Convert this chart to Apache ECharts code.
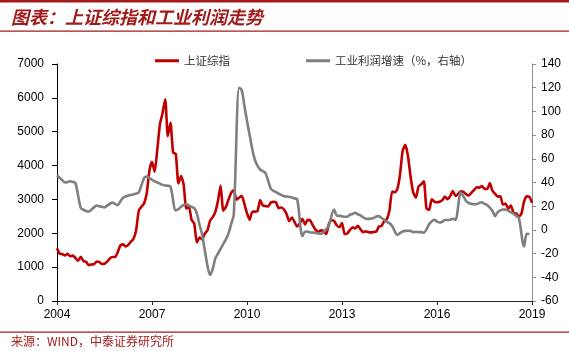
<!DOCTYPE html>
<html>
<head>
<meta charset="utf-8">
<script src="https://cdn.jsdelivr.net/npm/echarts@6/dist/echarts.min.js"></script>
<style>
  html, body { margin: 0; padding: 0; background: #fff; }
  #main { width: 569px; height: 351px; }
</style>
</head>
<body>
<div id="main"></div>
<script>
// 月度类目：2004-05 ~ 2019-05
const months = [];
for (let y = 2004; y <= 2019; y++) {
  for (let m = 1; m <= 12; m++) {
    if ((y === 2004 && m < 5) || (y === 2019 && m > 5)) continue;
    months.push(y + '-' + (m < 10 ? '0' + m : m));
  }
}

// 上证综指（月末）
const sseIndex = [
  1555, 1399, 1386, 1342, 1396, 1320, 1340, 1266,
  1191, 1306, 1181, 1159, 1060, 1080, 1083, 1162, 1155, 1092, 1099, 1161,
  1258, 1299, 1298, 1440, 1641, 1672, 1612, 1658, 1752, 1837, 2099, 2675,
  2786, 2881, 3183, 3841, 4109, 3820, 4471, 5218, 5552, 5954, 4871, 5262,
  4383, 4348, 3473, 3693, 3433, 2736, 2776, 2397, 2293, 1729, 1871, 1821,
  1991, 2082, 2374, 2477, 2633, 2959, 3412, 2668, 2779, 2996, 3195, 3277,
  2989, 3051, 3110, 2871, 2592, 2398, 2638, 2639, 2656, 2979, 2820, 2808,
  2791, 2905, 2928, 2911, 2743, 2762, 2701, 2567, 2359, 2468, 2333, 2199,
  2293, 2428, 2263, 2397, 2373, 2225, 2103, 2047, 2086, 2069, 1980, 2269,
  2385, 2366, 2237, 2178, 2301, 1979, 1994, 2098, 2175, 2142, 2221, 2116,
  2033, 2056, 2033, 2026, 2039, 2048, 2202, 2217, 2364, 2420, 2683, 3235,
  3210, 3310, 3748, 4442, 4612, 4277, 3664, 3206, 3053, 3383, 3446, 3539,
  2738, 2688, 3004, 2938, 2917, 2930, 2979, 3085, 3005, 3100, 3250, 3104,
  3159, 3242, 3223, 3155, 3117, 3192, 3273, 3361, 3349, 3393, 3317, 3307,
  3481, 3259, 3169, 3082, 3095, 2847, 2876, 2725, 2821, 2603, 2588, 2494,
  2585, 2941, 3091, 3078, 2899
];

// 工业利润累计同比（%），1月无数据
const profitGrowth = [
  46, 44, 42, 40, 40.5, 41, 40.5, 39.5,
  null, 18.5, 17, 16, 15.5, 17, 19, 20.6, 20, 19.5, 19, 20.5,
  null, 23, 22, 21, 24, 27, 28.2, 29, 29.5, 30, 30.8, 31.6,
  null, 43.8, 45, 44, 42.3, 41, 40, 39, 38, 37.5, 37.2, 36.7,
  null, 16.5, 17.5, 19.5, 21, 21.8, 20.5, 19.4, 18.4, 14, 4.3, -4,
  null, -30, -38, -33, -24, -20, -16, -12, -8, -3, 5, 13,
  null, 120, 118, 105, 92, 80, 68, 59, 54, 51, 49.5, 48,
  null, 35, 33, 31.9, 30.5, 29.5, 28.5, 28.2, 27.8, 27.4, 26.5, 26,
  null, -5.2, -1.5, -1.4, -2.2, -2.2, -2.7, -3.1, -3.3, -1.8, 0.5, 3.7,
  null, 17.2, 12.1, 11.9, 11.5, 11.1, 11.1, 12.8, 13.5, 14.4, 13.2, 12.2,
  null, 9.4, 9.3, 9.6, 10, 11.4, 11.6, 10, 8.5, 6.7, 5.7, 3.3,
  null, -4.2, -2.7, -1.3, -0.8, -0.7, -0.8, -1.9, -1.7, -1.9, -1.9, -2.3,
  null, 4.8, 7.4, 8.5, 7, 6.2, 6.9, 8.4, 8.4, 8.6, 9.4, 8.5,
  null, 31.5, 28.3, 24.4, 22.7, 22, 21.6, 21.6, 22.8, 23.3, 21.9, 21,
  null, 16.1, 11.6, 15, 16.5, 17.2, 17.1, 16.2, 14.7, 13.6, 11.8, 10.3,
  null, -14, -3.3, -3.4, null
];

const seriesNames = ['上证综指', '工业利润增速（%，右轴）'];
const titleText = '图表：上证综指和工业利润走势';
const sourceText = '来源：WIND，中泰证券研究所';
const labelStep = 36; // 每3年一个刻度

const darkRed = '#a31b1b';
const cjk = '"Noto Sans CJK SC", sans-serif';
const latin = '"Liberation Sans", Arial, sans-serif';

let myChart = echarts.init(document.getElementById('main'), null, {renderer: 'canvas'});
myChart.setOption({
  animation: false,
  backgroundColor: '#fff',
  graphic: [
    {type: 'rect', shape: {x: 0, y: 0, width: 569, height: 2.5}, style: {fill: darkRed}},
    {
      type: 'text', left: 11, top: 8,
      style: {text: titleText, fill: darkRed, font: 'italic bold 18px ' + cjk}
    },
    {type: 'rect', shape: {x: 0, y: 30.5, width: 569, height: 1.2}, style: {fill: darkRed}},
    {type: 'rect', shape: {x: 0, y: 331.5, width: 569, height: 1.2}, style: {fill: darkRed}},
    {
      type: 'text', left: 11, top: 335,
      style: {text: sourceText, fill: darkRed, font: '12px ' + cjk}
    }
  ],
  legend: {
    top: 50,
    left: 150,
    itemGap: 76,
    itemWidth: 24,
    itemHeight: 3,
    icon: 'rect',
    textStyle: {fontFamily: cjk, fontSize: 11.5, color: '#333'},
    data: seriesNames
  },
  grid: {
    left: 57,
    right: 37,
    top: 64,
    bottom: 50
  },
  xAxis: {
    type: 'category',
    boundaryGap: false,
    data: months,
    axisLine: {lineStyle: {color: '#222', width: 1}},
    axisTick: {
      length: 4,
      interval: function (idx) { return idx % labelStep === 0; },
      lineStyle: {color: '#222'}
    },
    axisLabel: {
      interval: function (idx) { return idx % labelStep === 0; },
      formatter: function (v) { return v.slice(0, 4); },
      color: '#000',
      fontFamily: latin,
      fontSize: 12,
      margin: 8
    }
  },
  yAxis: [
    {
      type: 'value',
      min: 0,
      max: 7000,
      interval: 1000,
      axisLine: {show: true, lineStyle: {color: '#000'}},
      axisTick: {show: true, length: 5, lineStyle: {color: '#000'}},
      axisLabel: {
        color: '#000', fontFamily: latin, fontSize: 12, margin: 13,
        formatter: function (v) { return String(v); }
      },
      splitLine: {show: false}
    },
    {
      type: 'value',
      min: -60,
      max: 140,
      interval: 20,
      position: 'right',
      axisLine: {show: true, lineStyle: {color: '#8c8c8c'}},
      axisTick: {show: true, length: 4, lineStyle: {color: '#8c8c8c'}},
      axisLabel: {
        color: '#000', fontFamily: latin, fontSize: 12, margin: 9,
        formatter: function (v) { return String(v); }
      },
      splitLine: {show: false}
    }
  ],
  series: [
    {
      name: seriesNames[0],
      type: 'line',
      yAxisIndex: 0,
      symbol: 'none',
      smooth: 0.2,
      itemStyle: {color: '#c00000'},
      lineStyle: {color: '#c00000', width: 2.6},
      data: sseIndex
    },
    {
      name: seriesNames[1],
      type: 'line',
      yAxisIndex: 1,
      symbol: 'none',
      smooth: 0.3,
      connectNulls: true,
      itemStyle: {color: '#7f7f7f'},
      lineStyle: {color: '#7f7f7f', width: 2.6},
      data: profitGrowth
    }
  ]
});
</script>
</body>
</html>
